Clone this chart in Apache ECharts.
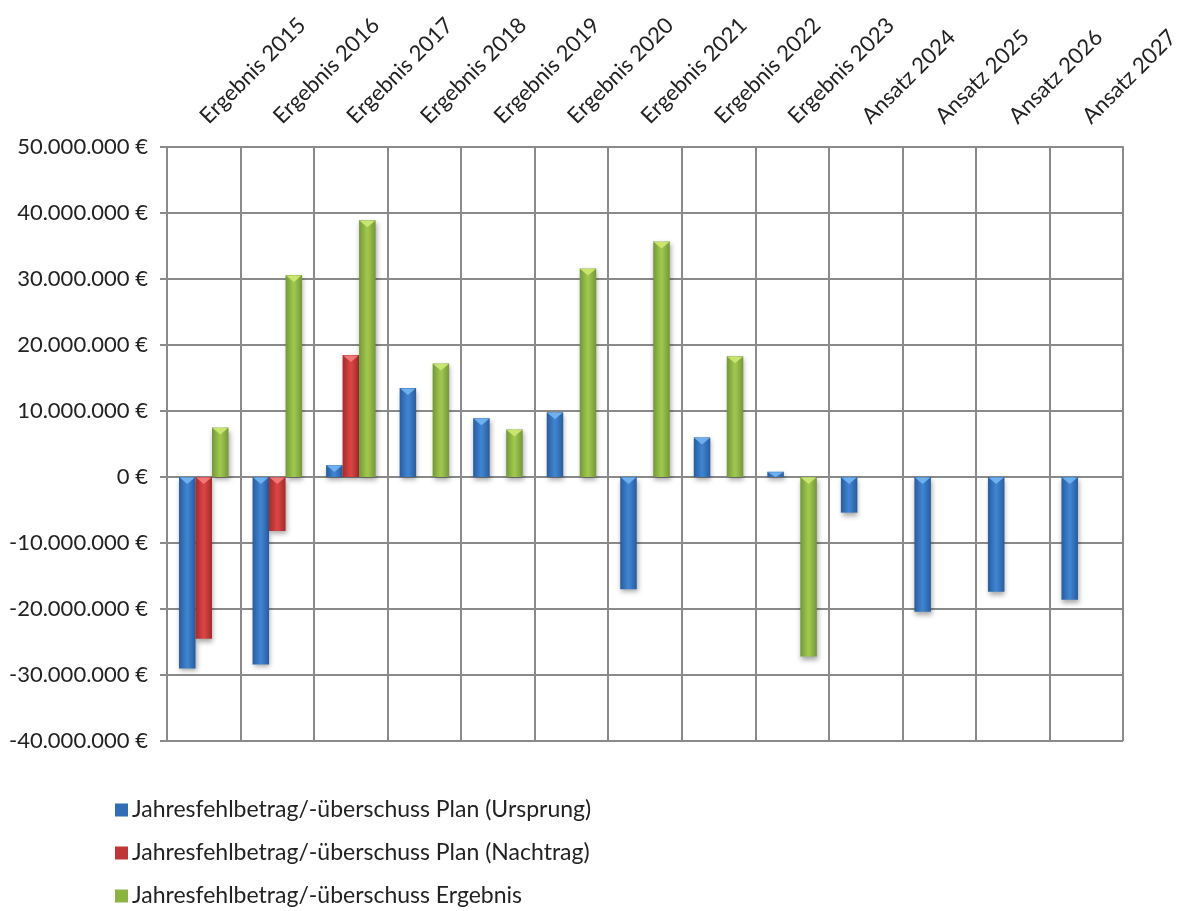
<!DOCTYPE html>
<html>
<head>
<meta charset="utf-8">
<script src="https://cdn.jsdelivr.net/npm/echarts@6/dist/echarts.min.js"></script>
<style>
html,body{margin:0;padding:0;background:#fff;}
#chart{width:1184px;height:911px;}
</style>
</head>
<body>
<div id="chart"></div>
<script>
const categories = ['Ergebnis 2015','Ergebnis 2016','Ergebnis 2017','Ergebnis 2018','Ergebnis 2019','Ergebnis 2020','Ergebnis 2021','Ergebnis 2022','Ergebnis 2023','Ansatz 2024','Ansatz 2025','Ansatz 2026','Ansatz 2027'];
const seriesNames = ['Jahresfehlbetrag/-überschuss Plan (Ursprung)','Jahresfehlbetrag/-überschuss Plan (Nachtrag)','Jahresfehlbetrag/-überschuss Ergebnis'];
const planUrsprung = [-29000000,-28400000,1800000,13500000,8900000,9800000,-17000000,6000000,800000,-5400000,-20400000,-17400000,-18600000];
const planNachtrag = [-24500000,-8200000,18500000,null,null,null,null,null,null,null,null,null,null];
const ergebnis = [7500000,30600000,38900000,17200000,7200000,31600000,35700000,18300000,-27200000,null,null,null,null];
const yMin = -40000000, yMax = 50000000, yStep = 10000000;

function fmt(v){
  const neg = v < 0;
  let s = Math.abs(Math.round(v)).toString();
  s = s.replace(/\B(?=(\d{3})+(?!\d))/g, '.');
  return (neg ? '-' : '') + s + ' €';
}
function grad(edge, mid){
  return new echarts.graphic.LinearGradient(0,0,1,0,[
    {offset:0,color:edge},{offset:0.45,color:mid},{offset:0.55,color:mid},{offset:1,color:edge}
  ]);
}
const colors = [
  {edge:'#285c9c', mid:'#3e82d0', light:'#72b2ef', legend:'#2f6db5'},
  {edge:'#a32a2a', mid:'#d84444', light:'#f27a7a', legend:'#c03535'},
  {edge:'#74963a', mid:'#9ec64c', light:'#cbe770', legend:'#8db342'}
];
const dataSets = [planUrsprung, planNachtrag, ergebnis];
const BAR_W = 16.5;
const FONT = 'Lato';

const barSeries = dataSets.map((d,i)=>({
  name:seriesNames[i], type:'bar', data:d,
  barWidth:BAR_W, barGap:'0%', barCategoryGap:'33%',
  itemStyle:{
    color:grad(colors[i].edge, colors[i].mid),
    shadowBlur:5, shadowOffsetX:1, shadowOffsetY:3, shadowColor:'rgba(0,0,0,0.35)'
  }
}));
const bevelSeries = dataSets.map((d,i)=>({
  name:'bevel'+i, type:'custom', z:5, silent:true,
  data:d.map((v,k)=>v==null?null:[k,v]).filter(x=>x),
  encode:{x:0,y:1},
  renderItem:function(params, api){
    const k = api.value(0), v = api.value(1);
    const topVal = Math.max(v, 0);
    const p = api.coord([k, topVal]);
    const cx = p[0] + (i-1)*BAR_W;
    const half = BAR_W/2;
    const h = Math.min(7, Math.abs(api.coord([k,v])[1]-api.coord([k,0])[1]));
    return {
      type:'polygon',
      shape:{points:[[cx-half+0.5,p[1]+0.5],[cx+half-0.5,p[1]+0.5],[cx,p[1]+h]]},
      style:{fill:colors[i].light, opacity:0.95}
    };
  }
}));

const chart = echarts.init(document.getElementById('chart'));
chart.setOption({
  animation:false,
  textStyle:{fontFamily:FONT},
  grid:{left:167,right:61,top:147,bottom:170,containLabel:false},
  legend:{
    orient:'vertical', left:115, top:798, itemGap:19, padding:0,
    itemWidth:13, itemHeight:13, icon:'rect',
    textStyle:{fontSize:23,lineHeight:24,color:'#222',fontFamily:FONT,padding:[0,0,0,-1]},
    data:seriesNames.map((n,i)=>({name:n,itemStyle:{color:colors[i].legend}}))
  },
  xAxis:{
    type:'category', data:categories, position:'top',
    axisLine:{show:true,onZero:false,lineStyle:{color:'#8a8a8a',width:2}},
    axisTick:{show:false},
    splitLine:{show:true,lineStyle:{color:'#8a8a8a',width:2}},
    axisLabel:{rotate:-45,margin:27,fontSize:22,color:'#222',interval:0}
  },
  yAxis:{
    type:'value', min:yMin, max:yMax, interval:yStep,
    axisLine:{show:true,lineStyle:{color:'#8a8a8a',width:2}},
    axisTick:{show:true,length:7,lineStyle:{color:'#8a8a8a',width:2}},
    splitLine:{show:true,lineStyle:{color:'#8a8a8a',width:2}},
    axisLabel:{formatter:fmt,fontSize:22,color:'#222',margin:19}
  },
  series:barSeries.concat(bevelSeries)
});
</script>
</body>
</html>
